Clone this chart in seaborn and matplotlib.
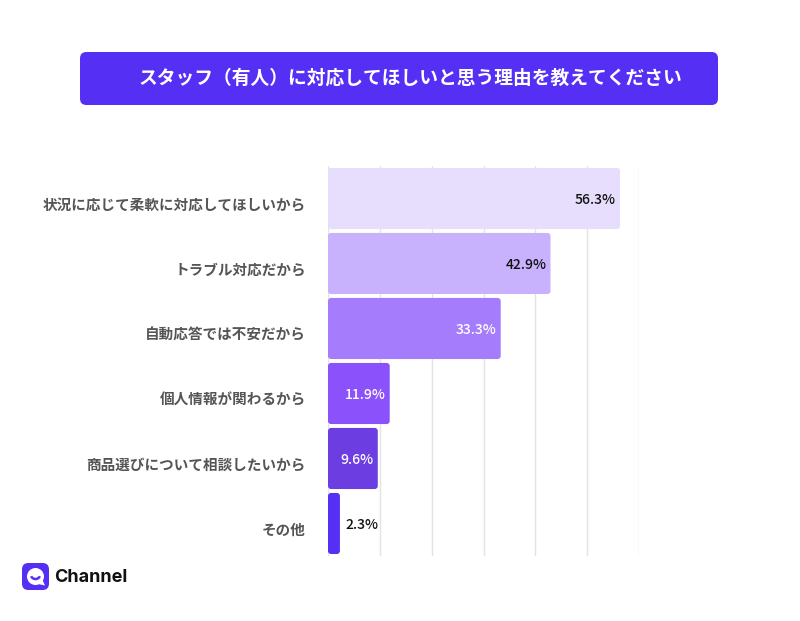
import matplotlib
matplotlib.use("Agg")
import matplotlib.pyplot as plt
import matplotlib.transforms as mtransforms
import seaborn as sns
import pandas as pd
from matplotlib.patches import FancyBboxPatch, Arc, Ellipse, Polygon

sns.set_theme(style="white")
plt.rcParams['font.family'] = ['Noto Sans CJK JP', 'DejaVu Sans']

title = "スタッフ（有人）に対応してほしいと思う理由を教えてください"
categories = ["状況に応じて柔軟に対応してほしいから", "トラブル対応だから", "自動応答では不安だから",
              "個人情報が関わるから", "商品選びについて相談したいから", "その他"]
values = [56.3, 42.9, 33.3, 11.9, 9.6, 2.3]
bar_colors = ["#E7DEFE", "#C8B1FD", "#A57CFC", "#8B51FB", "#6C3DE1", "#5530F4"]
label_colors = ["#111111", "#111111", "#FFFFFF", "#FFFFFF", "#FFFFFF", "#111111"]
label_inside = [True, True, True, True, True, False]
x_ticks = [0, 10, 20, 30, 40, 50, 60]

df = pd.DataFrame({"cat": categories, "val": values})

fig = plt.figure(figsize=(8, 6.21), dpi=100)
ax = fig.add_axes([0.41, 0.1047, 0.389, 0.628])

sns.barplot(data=df, x="val", y="cat", hue="cat", palette=bar_colors, legend=False,
            width=0.94, ax=ax, zorder=3, saturation=1)

ax.set_xlim(0, 60)
ax.set_xticks(x_ticks)
ax.set_xticklabels([])
ax.tick_params(axis="x", length=0)
ax.tick_params(axis="y", length=0, pad=16, labelsize=10.5, labelcolor="#555555")
offset = mtransforms.ScaledTranslation(0, -5 / 100, fig.dpi_scale_trans)
for t in ax.get_yticklabels():
    t.set_fontweight("bold")
    t.set_transform(t.get_transform() + offset)
ax.set_xlabel("")
ax.set_ylabel("")
for s in ax.spines.values():
    s.set_visible(False)
ax.grid(axis="x", color="#E3E3E3", linewidth=1, zorder=0)
ax.set_axisbelow(True)

# rounded bars
patches = list(ax.patches)
for p in patches:
    x0, y0 = p.get_x(), p.get_y()
    w, h = p.get_width(), p.get_height()
    fb = FancyBboxPatch((x0, y0), w, h, boxstyle="round,pad=0,rounding_size=0.6",
                        mutation_aspect=0.08, facecolor=p.get_facecolor(),
                        edgecolor="none", zorder=3)
    p.remove()
    ax.add_patch(fb)

for i, (v, c, inside) in enumerate(zip(values, label_colors, label_inside)):
    if inside:
        ax.annotate(f"{v}%", xy=(v, i), xytext=(-3, -1), textcoords="offset points",
                    ha="right", va="center", fontsize=10, color=c, zorder=5,
                    fontweight="medium")
    else:
        ax.annotate(f"{v}%", xy=(v, i), xytext=(4, -1), textcoords="offset points",
                    ha="left", va="center", fontsize=10, color=c, zorder=5,
                    fontweight="medium")

# title banner
W, H = 800, 621
def fx(px): return px / W
def fy(py): return 1 - py / H
banner = FancyBboxPatch((fx(80), fy(105)), fx(718) - fx(80), fy(52) - fy(105),
                        boxstyle="round,pad=0,rounding_size=0.008",
                        transform=fig.transFigure, facecolor="#5530F4",
                        edgecolor="none", mutation_aspect=800/621)
fig.patches.append(banner)
fig.text(fx(410), fy(78.5), title, ha="center", va="center", color="white",
         fontsize=13.5, fontweight="bold")

# logo
logo = FancyBboxPatch((fx(22), fy(590)), fx(27), fy(563) - fy(590),
                      boxstyle="round,pad=0,rounding_size=0.008",
                      transform=fig.transFigure, facecolor="#5530F4", edgecolor="none",
                      mutation_aspect=800/621)
fig.patches.append(logo)
bubble = Ellipse((fx(35.5), fy(576.5)), fx(17), 17 / H, transform=fig.transFigure,
                 facecolor="white", edgecolor="none")
fig.patches.append(bubble)
tail = Polygon([(fx(38), fy(584)), (fx(45), fy(585.5)), (fx(42), fy(579))],
               closed=True, transform=fig.transFigure, facecolor="white", edgecolor="none")
fig.patches.append(tail)
smile = Arc((fx(35.5), fy(575)), fx(9), 8 / H, theta1=200, theta2=340,
            transform=fig.transFigure, color="#5530F4", linewidth=1.8)
fig.patches.append(smile)
fig.text(fx(54), fy(577), "Channel", ha="left", va="center", color="#111111",
         fontsize=13, fontweight="bold", family=["Inter", "DejaVu Sans"])

fig.savefig("out.png", dpi=100, facecolor="white")
